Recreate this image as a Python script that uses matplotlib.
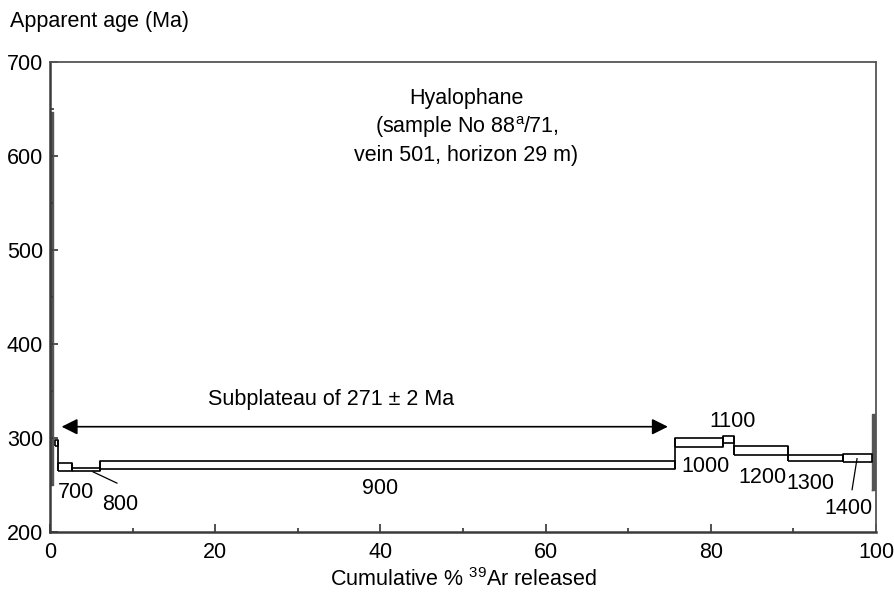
import matplotlib
matplotlib.use("Agg")
import matplotlib.pyplot as plt
from matplotlib.ticker import MultipleLocator

plt.rcParams['font.family'] = ['Liberation Sans', 'DejaVu Sans']

# Heating steps: cumulative % 39Ar boundaries and age band (lower, upper) in Ma
step_x0 = [0.0, 0.6, 1.0, 2.7, 6.0, 75.7, 81.5, 82.8, 89.3, 96.0, 99.5]
step_x1 = [0.3, 1.0, 2.7, 6.0, 75.7, 81.5, 82.8, 89.3, 96.0, 99.5, 100.0]
age_lo = [250, 291, 265, 265, 267, 290, 295, 282, 275, 274, 245]
age_hi = [647, 298, 273, 268, 275, 300, 302, 291, 282, 283, 325]

# Temperature labels (°C) and their positions
temp_labels = ["700", "800", "900", "1000", "1100", "1200", "1300", "1400"]
temp_x = [3.1, 8.5, 40.0, 79.4, 82.6, 86.3, 92.1, 96.6]
temp_y = [242, 229, 246, 270, 318, 258, 252, 225]

plateau_start, plateau_end, plateau_age = 1.4, 74.8, 312
x_ticks = [0, 20, 40, 60, 80, 100]
y_ticks = [200, 300, 400, 500, 600, 700]

FS = 15.5

fig = plt.figure(figsize=(8.95, 5.98), dpi=100)
ax = fig.add_axes([0.0559, 0.1104, 0.9229, 0.7859])
ax.set_xlim(0, 100)
ax.set_ylim(200, 700)

box_kw = dict(color='black', lw=1.2, solid_capstyle='butt')
n = len(step_x0)
is_bar = [(step_x1[i] - step_x0[i]) < 0.35 or ((step_x1[i] - step_x0[i]) <= 0.5 and i == n - 1)
          for i in range(n)]
for i in range(n):
    x0, x1, lo, hi = step_x0[i], step_x1[i], age_lo[i], age_hi[i]
    if is_bar[i]:
        # very small gas fractions: drawn as solid bars
        ax.fill_between([x0, x1], lo, hi, color='#555555', lw=0)
        ax.plot([x0, x0, x1, x1, x0], [lo, hi, hi, lo, lo], color='#555555', lw=1.0)
        continue
    ax.fill_between([x0, x1], lo, hi, color='white', lw=0, zorder=2)
    ax.plot([x0, x0, x1, x1, x0], [lo, hi, hi, lo, lo], zorder=3, **box_kw)
    if i > 0 and not is_bar[i - 1]:
        ax.plot([x0, x0], [min(lo, age_lo[i - 1]), max(hi, age_hi[i - 1])],
                zorder=3, **box_kw)

# Subplateau arrow
ax.annotate("", xy=(plateau_start, plateau_age), xytext=(plateau_end, plateau_age),
            arrowprops=dict(arrowstyle='<|-|>', color='black', lw=1.2,
                            mutation_scale=24, shrinkA=0, shrinkB=0))
ax.text(34, 341, "Subplateau of 271 ± 2 Ma", ha='center', va='center', fontsize=FS)

ax.text(50.4, 631, "Hyalophane\n(sample No 88$^{\\mathregular{a}}$/71,\nvein 501, horizon 29 m)",
        ha='center', va='center', fontsize=FS, linespacing=1.3)

for lab, x, y in zip(temp_labels, temp_x, temp_y):
    ax.text(x, y, lab, ha='center', va='center', fontsize=FS)

# Leader lines to the narrow steps
ax.plot([5.2, 8.1], [264, 252], color='black', lw=0.9)
ax.plot([97.7, 97.1], [278, 245], color='black', lw=0.9)

ax.set_xticks(x_ticks)
ax.set_yticks(y_ticks)
ax.xaxis.set_minor_locator(MultipleLocator(10))
ax.yaxis.set_minor_locator(MultipleLocator(50))
ax.tick_params(which='both', direction='in', top=False, right=False,
               labelsize=FS, color='#333333')
ax.tick_params(which='major', length=6, width=1.2)
ax.tick_params(which='minor', length=3, width=1.2)
ax.tick_params(axis='y', pad=5)
ax.tick_params(axis='x', pad=7)

for side in ['left', 'bottom']:
    ax.spines[side].set_linewidth(1.8)
    ax.spines[side].set_color('#3a3a3a')
for side in ['top', 'right']:
    ax.spines[side].set_linewidth(1.3)
    ax.spines[side].set_color('#555555')

fig.text(10 / 895, 1 - 22 / 598, "Apparent age (Ma)", ha='left', va='center', fontsize=FS)
fig.text(463 / 895, 1 - 580 / 598, "Cumulative % $^{\\mathregular{39}}$Ar released",
         ha='center', va='center', fontsize=FS)

fig.savefig("out.png", dpi=100)
